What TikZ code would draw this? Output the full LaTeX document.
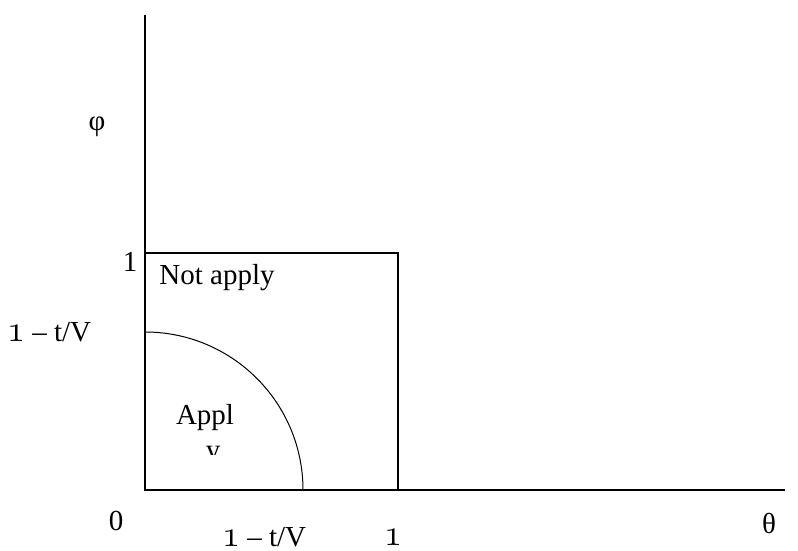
\documentclass[tikz,border=0pt]{standalone}
\usepackage{fontspec}
\setmainfont{Liberation Serif}
\newcommand{\osone}{\scalebox{1.5}{$\mathnormal{1}$}}
\begin{document}
\begin{tikzpicture}[x=1pt,y=1pt,
  lbl/.style={font=\fontsize{29}{34}\selectfont, inner sep=0pt},
  edge/.style={line width=1.4pt, black},
  ]
  \useasboundingbox (0,0) rectangle (798,551);

  %%% axes %%%
  \coordinate (org) at (145,61);
  \coordinate (ytop) at (145,536);
  \coordinate (xend) at (785,61);
  \draw[edge] (ytop) -- (org) -- (xend);

  %%% unit square and quarter circle %%%
  \coordinate (sqtop) at (145,298);
  \coordinate (sqcorner) at (398,298);
  \coordinate (sqbase) at (398,61);
  \draw[edge] (sqtop) -- (sqcorner) -- (sqbase);
  \draw[line width=1pt] (145,219) arc[start angle=90, end angle=0, radius=158];

  %%% axis labels %%%
  \node[lbl] (phi) at (97,424) {φ};
  \node[lbl] (theta) at (769,27) {θ};
  \node[lbl] (zero) at (116,30) {0};
  \node[lbl] (yone) at (130,289) {1};
  \node[lbl] (ytv) at (49,219) {\osone{} – t/V};
  \node[lbl] (xtv) at (264,14) {\osone{} – t/V};
  \node[lbl] (xone) at (393,14) {\osone};

  %%% region labels %%%
  \node[lbl] (notapply) at (217,273) {Not apply};
  \node[lbl] (apply) at (205,133) {Appl};
  \begin{scope}
    \clip (190,96) rectangle (240,106);
    \node[lbl, anchor=north] (applyy) at (213,105) {y};
  \end{scope}
\end{tikzpicture}
\end{document}
